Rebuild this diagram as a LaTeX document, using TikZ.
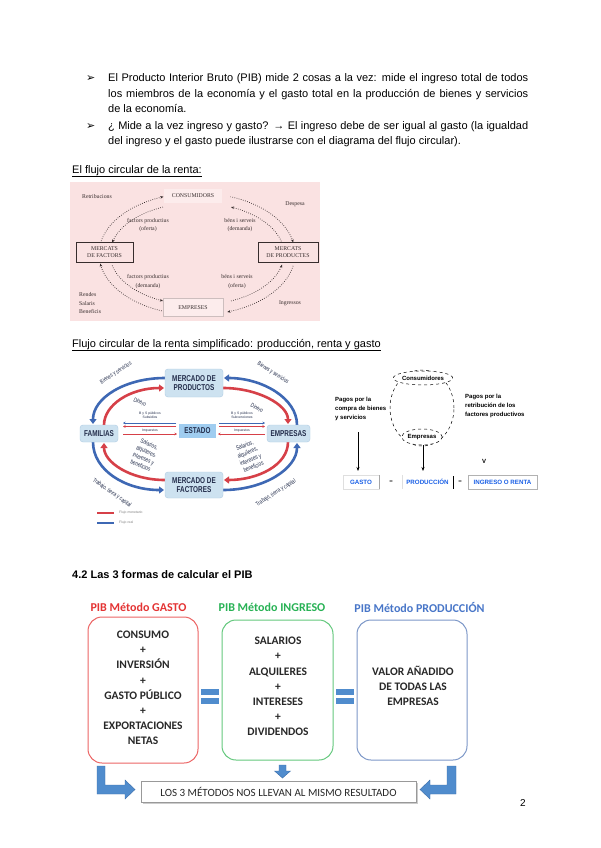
\documentclass[tikz,border=0pt]{standalone}
\usepackage{fontspec}
\setmainfont{Liberation Sans}
\newfontfamily\serdiag{Liberation Serif}
\newfontfamily\calib{Carlito}
\newfontfamily\condf[FakeStretch=0.75]{Liberation Sans}
\newfontfamily\djv{DejaVu Sans}
\usetikzlibrary{arrows.meta,shapes.geometric}
\definecolor{pinkbg}{RGB}{250,226,226}
\definecolor{pinklt}{RGB}{252,236,236}
\definecolor{dgray}{RGB}{55,45,45}
\definecolor{pkedge}{RGB}{205,190,190}
\definecolor{flblue}{RGB}{62,104,180}
\definecolor{flred}{RGB}{214,64,72}
\definecolor{boxblue}{RGB}{205,226,240}
\definecolor{boxedge}{RGB}{175,205,228}
\definecolor{estblue}{RGB}{160,205,240}
\definecolor{navy}{RGB}{35,45,75}
\definecolor{txtblue}{RGB}{25,95,230}
\definecolor{pibred}{RGB}{228,52,52}
\definecolor{pibgreen}{RGB}{40,178,85}
\definecolor{pibblue}{RGB}{72,118,200}
\definecolor{pibredl}{RGB}{236,100,100}
\definecolor{pibgreenl}{RGB}{100,200,125}
\definecolor{pibbluel}{RGB}{125,152,200}
\definecolor{arrblue}{RGB}{80,140,205}
\definecolor{arredge}{RGB}{60,110,170}
\definecolor{boxtxt}{RGB}{40,40,40}
\begin{document}
\begin{tikzpicture}[x=1pt,y=-1pt,
  body/.style={anchor=base west, inner sep=0pt, font=\fontsize{11}{13}\selectfont},
  pkbox/.style={draw=dgray, line width=0.6pt, fill=pinkbg, align=center, inner sep=1pt, text=dgray, font=\serdiag\fontsize{5.8}{6.8}\selectfont},
  pklab/.style={align=center, inner sep=0pt, text=dgray, font=\serdiag\fontsize{5.8}{8.5}\selectfont},
  pkdot/.style={dgray, line width=0.7pt, dash pattern=on 0.7pt off 1.5pt, -{Stealth[length=3.2pt,width=2.6pt]}},
  pkdotr/.style={dgray, line width=0.7pt, dash pattern=on 0.7pt off 1.5pt, {Stealth[length=3.2pt,width=2.6pt]}-},
  mbox/.style={fill=boxblue, draw=boxedge, rounded corners=3pt, align=center, inner sep=1pt, text=navy, font=\condf\bfseries\fontsize{8.5}{9.5}\selectfont},
  flb/.style={flblue, line width=2.6pt, -{Triangle[length=5pt,width=7pt]}},
  flr/.style={flred, line width=2.6pt, -{Triangle[length=5pt,width=7pt]}},
  dlab/.style={inner sep=0pt, align=center, text=navy, font=\condf\fontsize{6}{6.5}\selectfont},
  tinylab/.style={inner sep=0pt, align=center, text=navy, font=\fontsize{3.4}{4}\selectfont},
  thinb/.style={flblue, line width=0.6pt, -{Stealth[length=2.5pt,width=2.5pt]}},
  thinr/.style={flred, line width=0.6pt, -{Stealth[length=2.5pt,width=2.5pt]}},
  d3lab/.style={inner sep=0pt, align=left, font=\bfseries\fontsize{6}{9}\selectfont},
  blue3/.style={inner sep=0pt, text=txtblue, font=\bfseries\fontsize{6.2}{7}\selectfont},
  pibtitle/.style={inner sep=0pt, font=\calib\bfseries\fontsize{12}{14}\selectfont},
  pibtxt/.style={inner sep=0pt, align=center, text=boxtxt, font=\calib\bfseries\fontsize{11.5}{15.2}\selectfont},
  bigarr/.style={fill=arrblue, draw=arredge, line width=0.4pt}
]
\fill[white] (0,0) rectangle (600,848);
\useasboundingbox (0,0) rectangle (600,848);

% ---------- body text ----------
\node[anchor=base west, inner sep=0pt] (b1) at (86,82) {\djv\fontsize{11}{12}\selectfont ➢};
\node[anchor=base west, inner sep=0pt] (b2) at (86,129) {\djv\fontsize{11}{12}\selectfont ➢};
\node[body] (t1) at (108,82) {\makebox[420pt][s]{El Producto Interior Bruto (PIB) mide 2 cosas a la vez: mide el ingreso total de todos}};
\node[body] (t2) at (108,98) {\makebox[420pt][s]{los miembros de la economía y el gasto total en la producción de bienes y servicios}};
\node[body] (t3) at (108,113) {de la economía.};
\node[body] (t4) at (108,129) {\makebox[420pt][s]{¿ Mide a la vez ingreso y gasto? → El ingreso debe de ser igual al gasto (la igualdad}};
\node[body] (t5) at (108,144) {del ingreso y el gasto puede ilustrarse con el diagrama del flujo circular).};
\node[body] (h1) at (72,173) {\underline{El flujo circular de la renta:}};
\node[body] (h2) at (72,347) {\underline{Flujo circular de la renta simplificado: producción, renta y gasto}};
\node[body, font=\bfseries\fontsize{11}{13}\selectfont] (h3) at (72,578) {4.2 Las 3 formas de calcular el PIB};

% ---------- diagram 1 (pink) ----------
\fill[pinkbg] (70,182) rectangle (320,321);
\draw[pkdotr] plot[domain=110:168,samples=40] ({197+98*cos(\x)},{254-61*sin(\x)});
\draw[pkdotr] plot[domain=189:250,samples=40] ({197+98*cos(\x)},{254-61*sin(\x)});
\draw[pkdotr] plot[domain=11:70,samples=40] ({197+98*cos(\x)},{254-61*sin(\x)});
\draw[pkdotr] plot[domain=-72:-11,samples=40] ({197+98*cos(\x)},{254-61*sin(\x)});
\draw[pkdot] plot[domain=113:167,samples=40] ({197+87*cos(\x)},{254-51*sin(\x)});
\draw[pkdot] plot[domain=193:247,samples=40] ({197+87*cos(\x)},{254-51*sin(\x)});
\draw[pkdot] plot[domain=12:67,samples=40] ({197+87*cos(\x)},{254-51*sin(\x)});
\draw[pkdot] plot[domain=-67:-12,samples=40] ({197+87*cos(\x)},{254-51*sin(\x)});
\node[pkbox, draw=none, fill=pinklt, minimum width=58, minimum height=14] (cons) at (193,196) {CONSUMIDORS};
\node[pkbox, minimum width=57, minimum height=20] (mfac) at (104.5,252.5) {MERCATS\\DE FACTORS};
\node[pkbox, minimum width=60, minimum height=20] (mprod) at (288,252) {MERCATS\\DE PRODUCTES};
\node[pkbox, draw=pkedge, fill=pinklt, minimum width=60, minimum height=18] (empr) at (193,307.5) {EMPRESES};
\node[pklab] (l1) at (97,197) {Retribucions};
\node[pklab] (l2) at (295,204) {Despesa};
\node[pklab] (l3) at (148,225) {factors productius\\(oferta)};
\node[pklab] (l4) at (240,225) {béns i serveis\\(demanda)};
\node[pklab] (l5) at (148,281.5) {factors productius\\(demanda)};
\node[pklab] (l6) at (237,281.5) {béns i serveis\\(oferta)};
\node[pklab, anchor=west, align=left] (l7) at (79,303.5) {Rendes\\Salaris\\Beneficis};
\node[pklab] (l8) at (290,303) {Ingressos};

% ---------- diagram 2 ----------
\draw[flb] (165,378) .. controls (125,378) and (93,398) .. (93,424);
\draw[flr] (104,425) .. controls (104,405) and (130,388) .. (164,388);
\draw[flb] (297,425) .. controls (297,398) and (262,378) .. (224,378);
\draw[flr] (223,388) .. controls (258,388) and (288,405) .. (288,424);
\draw[flr] (288,442) .. controls (288,465) and (258,480) .. (224,480);
\draw[flb] (223,490) .. controls (265,490) and (297,468) .. (297,443);
\draw[flr] (165,480) .. controls (130,480) and (104,462) .. (104,443);
\draw[flb] (93,442) .. controls (93,470) and (125,490) .. (164,490);
\node[mbox, minimum width=58, minimum height=28] (mp) at (194,383) {MERCADO DE\\PRODUCTOS};
\node[mbox, minimum width=38, minimum height=17] (fam) at (99,433.5) {FAMILIAS};
\node[mbox, fill=estblue, draw=none, rounded corners=0pt, minimum width=37, minimum height=14] (est) at (197.5,431) {ESTADO};
\node[mbox, minimum width=43, minimum height=17] (emp) at (288.5,433.5) {EMPRESAS};
\node[mbox, minimum width=58, minimum height=26] (mf) at (194,485) {MERCADO DE\\FACTORES};
\node[dlab, rotate=33] (bs1) at (116,373) {Bienes y servicios};
\node[dlab, rotate=-25] (di1) at (140,402) {Dinero};
\node[dlab, rotate=-33] (bs2) at (273,373) {Bienes y servicios};
\node[dlab, rotate=-30] (di2) at (257,408) {Dinero};
\node[dlab, rotate=-22, font=\condf\fontsize{6.2}{7.8}\selectfont] (sa1) at (145,455) {Salarios,\\alquileres,\\intereses y\\beneficios};
\node[dlab, rotate=22, font=\condf\fontsize{6.2}{7.8}\selectfont] (sa2) at (249,456) {Salarios,\\alquileres,\\intereses y\\beneficios};
\node[dlab, rotate=-35] (tr1) at (112,493) {Trabajo, tierra y capital};
\node[dlab, rotate=32] (tr2) at (276,493) {Trabajo, tierra y capital};
\node[tinylab] (bsl) at (150,415.5) {B y S públicos\\Subsidios};
\node[tinylab] (iml) at (150,430.5) {Impuestos};
\node[tinylab] (bsr) at (242,415.5) {B y S públicos\\Subvenciones};
\node[tinylab] (imr) at (242,430.5) {Impuestos};
\draw[thinb] (176,423) -- (123,423);
\draw[thinr] (176,426.5) -- (123,426.5);
\draw[thinr] (123,434) -- (177,434);
\draw[thinb] (219,423) -- (265,423);
\draw[thinr] (219,426.5) -- (265,426.5);
\draw[thinr] (265,434) -- (218,434);
\draw[flred, line width=1.6pt] (97,513) -- (114,513);
\node[tinylab, anchor=west, text=gray] (lg1) at (119,513) {Flujo monetario};
\draw[flblue, line width=1.6pt] (97,523) -- (114,523);
\node[tinylab, anchor=west, text=gray] (lg2) at (119,523) {Flujo real};

% ---------- diagram 3 ----------
\node[draw, dashed, ellipse, line width=0.5pt, minimum width=64, minimum height=76] (ov) at (422,408) {};
\node[draw, dashed, ellipse, fill=white, line width=0.5pt, inner sep=0pt, minimum width=49, minimum height=14, font=\bfseries\fontsize{6}{7}\selectfont] (cons2) at (423,378) {Consumidores};
\node[draw, dashed, ellipse, fill=white, line width=0.5pt, inner sep=0pt, minimum width=37, minimum height=16, font=\bfseries\fontsize{6}{7}\selectfont] (emp2) at (422,437) {Empresas};
\node[d3lab, anchor=north west] (pl) at (335,397) {Pagos por la\\compra de bienes\\y servicios};
\node[d3lab, anchor=north west] (pr) at (465,394) {Pagos por la\\retribución de los\\factores productivos};
\draw[gray!25, line width=0.5pt] (343,475) rectangle (379,489);
\draw[gray!70, line width=0.8pt] (379,475) -- (379,489);
\node[blue3] (gasto) at (361,482) {GASTO};
\node[inner sep=0pt, font=\fontsize{6}{7}\selectfont] (eq1) at (391,482) {=};
\draw[gray!25, line width=0.5pt] (402,475) -- (402,489);
\draw[black, line width=0.8pt] (453,476) -- (453,489);
\node[blue3] (prod) at (427.5,482) {PRODUCCIÓN};
\node[inner sep=0pt, font=\fontsize{6}{7}\selectfont] (eq2) at (460,482) {=};
\draw[gray!60, line width=0.6pt] (468,475) rectangle (537,489);
\node[blue3] (ing) at (502.5,482) {INGRESO O RENTA};
\draw[line width=0.6pt, -{Stealth[length=4pt,width=3pt]}] (358,432) -- (358,471);
\draw[line width=0.6pt, -{Stealth[length=4pt,width=3pt]}] (emp2.south -| 423,0) -- (423,471);
\node[inner sep=0pt, font=\bfseries\fontsize{6}{7}\selectfont] (vv) at (484,461) {V};

% ---------- 3 methods ----------
\node[pibtitle, text=pibred] (tg) at (138.5,607) {PIB Método GASTO};
\node[pibtitle, text=pibgreen] (ti) at (272,607) {PIB Método INGRESO};
\node[pibtitle, text=pibblue] (tp) at (419.5,607) {PIB Método PRODUCCIÓN};
\draw[pibredl, line width=1pt, rounded corners=14pt] (88,617) rectangle (198,763);
\draw[pibgreenl, line width=1pt, rounded corners=14pt] (222,620) rectangle (333,760);
\draw[pibbluel, line width=1pt, rounded corners=14pt] (357,620) rectangle (467,760);
\node[pibtxt] (cg) at (143,688) {CONSUMO\\+\\INVERSIÓN\\+\\GASTO PÚBLICO\\+\\EXPORTACIONES\\NETAS};
\node[pibtxt] (ci) at (278,686.5) {SALARIOS\\+\\ALQUILERES\\+\\INTERESES\\+\\DIVIDENDOS};
\node[pibtxt] (cp) at (413,686) {VALOR AÑADIDO\\DE TODAS LAS\\EMPRESAS};
\fill[arrblue] (201,689) rectangle (219,695);
\fill[arrblue] (201,698) rectangle (219,704);
\fill[arrblue] (336,689) rectangle (354,695);
\fill[arrblue] (336,698) rectangle (354,704);
\fill[gray!40] (143,783) rectangle (418,804);
\node[draw=gray!80, fill=white, line width=0.6pt, minimum width=275, minimum height=21, inner sep=0pt, text=boxtxt, font=\calib\fontsize{11}{13}\selectfont] (res) at (278.5,791.5) {LOS 3 MÉTODOS NOS LLEVAN AL MISMO RESULTADO};
\draw[bigarr] (97,766) -- (105,766) -- (105,785) -- (125,785) -- (125,780) -- (135,789.5) -- (125,799) -- (125,794) -- (97,794) -- cycle;
\draw[bigarr] (456,766) -- (447,766) -- (447,785) -- (430,785) -- (430,780) -- (420,789.5) -- (430,799) -- (430,794) -- (456,794) -- cycle;
\draw[bigarr] (279,765) -- (286,765) -- (286,771) -- (290.5,771) -- (282.5,778) -- (274.5,771) -- (279,771) -- cycle;
\node[inner sep=0pt, font=\fontsize{10}{12}\selectfont] (pg) at (523,803) {2};
\end{tikzpicture}
\end{document}
